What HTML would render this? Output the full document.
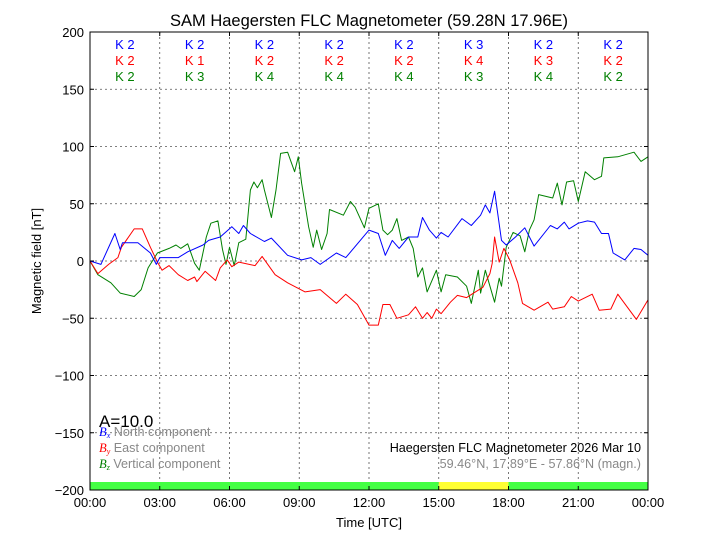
<!DOCTYPE html>
<html><head><meta charset="utf-8"><style>
body{margin:0;background:#fff;}
svg{display:block;font-family:"Liberation Sans","DejaVu Sans",sans-serif;}
</style></head><body>
<svg id="chart" width="720" height="540" viewBox="0 0 720 540" xmlns="http://www.w3.org/2000/svg">
<rect x="0" y="0" width="720" height="540" fill="#fff"/>
<text x="369" y="26" font-size="16.5" text-anchor="middle">SAM Haegersten FLC Magnetometer (59.28N 17.96E)</text>
<g id="grid"></g>
<g id="status"></g>
<g id="series"></g>
<g id="kidx"></g>
<rect x="90" y="32" width="558" height="458" fill="none" stroke="#000" stroke-width="1"/>
<g id="ticks"></g>
<text transform="translate(41,261) rotate(-90)" font-size="13" text-anchor="middle">Magnetic field [nT]</text>
<text x="369" y="527" font-size="13" text-anchor="middle">Time [UTC]</text>
<text x="99" y="427" font-size="17">A=10.0</text>
<g font-size="12.6">
<text x="99" y="436"><tspan fill="#0000ff" font-family="Liberation Serif,serif" font-style="italic">B</tspan><tspan fill="#0000ff" font-family="Liberation Serif,serif" font-style="italic" font-size="8" dy="2">x</tspan><tspan fill="#888" dy="-2"> North component</tspan></text>
<text x="99" y="452"><tspan fill="#ff0000" font-family="Liberation Serif,serif" font-style="italic">B</tspan><tspan fill="#ff0000" font-family="Liberation Serif,serif" font-style="italic" font-size="8" dy="2">y</tspan><tspan fill="#888" dy="-2"> East component</tspan></text>
<text x="99" y="468"><tspan fill="#008000" font-family="Liberation Serif,serif" font-style="italic">B</tspan><tspan fill="#008000" font-family="Liberation Serif,serif" font-style="italic" font-size="8" dy="2">z</tspan><tspan fill="#888" dy="-2"> Vertical component</tspan></text>
</g>
<text x="641" y="452" font-size="12.6" text-anchor="end">Haegersten FLC Magnetometer 2026 Mar 10</text>
<text x="641" y="468" font-size="12.6" text-anchor="end" fill="#888">59.46°N, 17.89°E - 57.86°N (magn.)</text>
</svg>
<script>
const bxT=[0,0.47,1.07,1.3,1.4,2.06,2.6,2.85,3.0,3.8,4.2,4.86,5.1,5.6,6.1,6.4,6.6,6.9,7.5,7.8,8.5,9.1,9.5,9.9,10.6,11,12,12.4,12.7,13.0,13.3,13.7,14.1,14.3,14.6,14.9,15.1,15.4,16.0,16.4,16.8,17.0,17.2,17.4,17.7,17.9,18.3,18.7,19.1,19.8,20.1,20.4,20.6,21.0,21.4,21.7,22.0,22.3,22.5,23.0,23.4,23.7,24];
const bxV=[0,-3,24,10,16,16,7,-3,3,3,8,14,18,21,30,24,31,24,17,20,5,1,3,-3,7,3,27,24,5,18,11,21,21,38,27,20,25,21,37,31,40,49,42,61,18,14,21,29,13,31,28,34,28,33,35,34,24,24,7,1,11,10,5];
const byT=[0,0.34,0.8,1.2,1.35,1.9,2.25,2.6,2.9,3.1,3.4,3.8,4.2,4.5,4.6,4.95,5.4,5.6,5.9,6.1,6.4,7.1,7.4,7.96,8.5,9.25,9.9,10.6,11.0,11.5,12,12.4,12.6,12.9,13.2,13.7,14.0,14.3,14.5,14.7,14.9,15.1,15.5,15.8,16.2,16.5,16.9,17.2,17.3,17.4,17.6,17.8,18.05,18.4,18.6,19.1,19.7,19.9,20.4,20.7,21.0,21.6,21.9,22.4,22.7,23.1,23.5,24];
const byV=[0,-11,-3,3,12,28,28,12,-1,-8,-4,-12,-17,-14,-18,-9,-17,-6,1,-5,-1,-4,4,-12,-19,-27,-25,-37,-29,-38,-56,-56,-38,-38,-50,-47,-40,-50,-45,-50,-42,-46,-36,-30,-32,-28,-23,-11,-2,21,-1,11,1,-19,-37,-43,-36,-42,-40,-31,-35,-29,-43,-42,-29,-40,-51,-34];
const bzT=[0,0.34,0.9,1.3,1.9,2.2,2.5,2.9,3.4,3.7,3.9,4.2,4.5,4.7,5.0,5.2,5.5,5.7,5.85,6.0,6.2,6.4,6.7,6.9,7.05,7.2,7.4,7.5,7.8,8.0,8.2,8.5,8.8,8.96,9.1,9.4,9.6,9.75,9.96,10.2,10.3,10.9,11.2,11.4,11.8,12,12.4,12.6,12.8,13.0,13.2,13.4,13.7,13.9,14.1,14.3,14.5,14.9,15.1,15.3,15.8,16.2,16.4,16.7,16.8,17.0,17.4,17.6,17.7,17.9,18.2,18.5,18.7,18.9,19.1,19.3,19.9,20.1,20.3,20.5,20.8,21.0,21.3,21.7,22.0,22.1,22.7,23.4,23.7,24];
const bzV=[0,-12,-19,-28,-31,-25,-6,7,11,14,11,15,-2,-8,21,33,35,10,-3,12,-4,16,19,62,69,64,71,62,38,62,94,95,78,91,68,30,12,27,10,24,45,40,52,47,29,46,50,27,23,27,37,18,21,11,-14,-6,-27,-8,-27,-12,-14,-22,-37,-8,-28,-8,-36,-15,-22,12,25,22,8,27,36,58,55,68,49,69,70,52,78,71,74,90,91,95,87,91];
const yTicks=[200,150,100,50,0,-50,-100,-150,-200];
const yTickLabels=["200","150","100","50","0","\u221250","\u2212100","\u2212150","\u2212200"];
const xTicks=[0,3,6,9,12,15,18,21,24];
const xTickLabels=["00:00","03:00","06:00","09:00","12:00","15:00","18:00","21:00","00:00"];
const kX=[2,2,2,2,2,3,2,2];
const kY=[2,1,2,2,2,4,3,2];
const kZ=[2,3,4,4,4,3,4,2];
const statusStart=[0,15,18];
const statusEnd=[15,18,24];
const statusColor=["#44ff44","#ffff33","#44ff44"];

const NS="http://www.w3.org/2000/svg";
const X0=90,X1=648,Y0=32,Y1=490;
function sx(h){return X0+(h/24)*(X1-X0);}
function sy(v){return Y1-(v+200)/400*(Y1-Y0);}
function mk(tag,attrs,parent){const e=document.createElementNS(NS,tag);for(const k in attrs)e.setAttribute(k,attrs[k]);parent.appendChild(e);return e;}
const grid=document.getElementById('grid'),ticks=document.getElementById('ticks');
yTicks.forEach((v,i)=>{
  const y=sy(v);
  if(v>-200&&v<200){const g=mk('line',{x1:X0,x2:X1,y1:y,y2:y,stroke:'#555','stroke-width':0.8,'stroke-dasharray':'2,3'},grid);
  
  }
  mk('line',{x1:X0,x2:X0+4,y1:y,y2:y,stroke:'#000'},ticks);
  mk('line',{x1:X1,x2:X1-4,y1:y,y2:y,stroke:'#000'},ticks);
  const t=mk('text',{x:84,y:y+5,'font-size':13,'text-anchor':'end'},ticks);
  t.textContent=yTickLabels[i];
  
  
});
xTicks.forEach((h,i)=>{
  const x=sx(h);
  if(h>0&&h<24){const g=mk('line',{x1:x,x2:x,y1:Y0,y2:Y1,stroke:'#555','stroke-width':0.8,'stroke-dasharray':'2,3'},grid);
  
  }
  mk('line',{x1:x,x2:x,y1:Y1,y2:Y1-4,stroke:'#000'},ticks);
  mk('line',{x1:x,x2:x,y1:Y0,y2:Y0+4,stroke:'#000'},ticks);
  const t=mk('text',{x:x,y:507,'font-size':13,'text-anchor':'middle'},ticks);
  t.textContent=xTickLabels[i];
  
  
});
const st=document.getElementById('status');
statusStart.forEach((s,i)=>{
  const r=mk('rect',{x:sx(s),y:482,width:sx(statusEnd[i])-sx(s),height:8,fill:statusColor[i]},st);
  
  
});
const ser=document.getElementById('series');
[[bzT,bzV,'#008000','bz-line'],[byT,byV,'#ff0000','by-line'],[bxT,bxV,'#0000ff','bx-line']].forEach(([T,V,c,n])=>{
  const p=mk('polyline',{points:T.map((t,i)=>sx(t).toFixed(1)+','+sy(V[i]).toFixed(1)).join(' '),fill:'none',stroke:c,'stroke-width':1,'stroke-linejoin':'round'},ser);
  
  
});
const kg=document.getElementById('kidx');
[[kX,'#0000ff',49],[kY,'#ff0000',65],[kZ,'#008000',81]].forEach(([arr,c,y])=>{
  arr.forEach((k,i)=>{
    const t=mk('text',{x:sx(i*3+1.5),y:y,'font-size':13,'text-anchor':'middle',fill:c},kg);
    t.textContent='K '+k;
    
    
  });
});
</script>
</body></html>
